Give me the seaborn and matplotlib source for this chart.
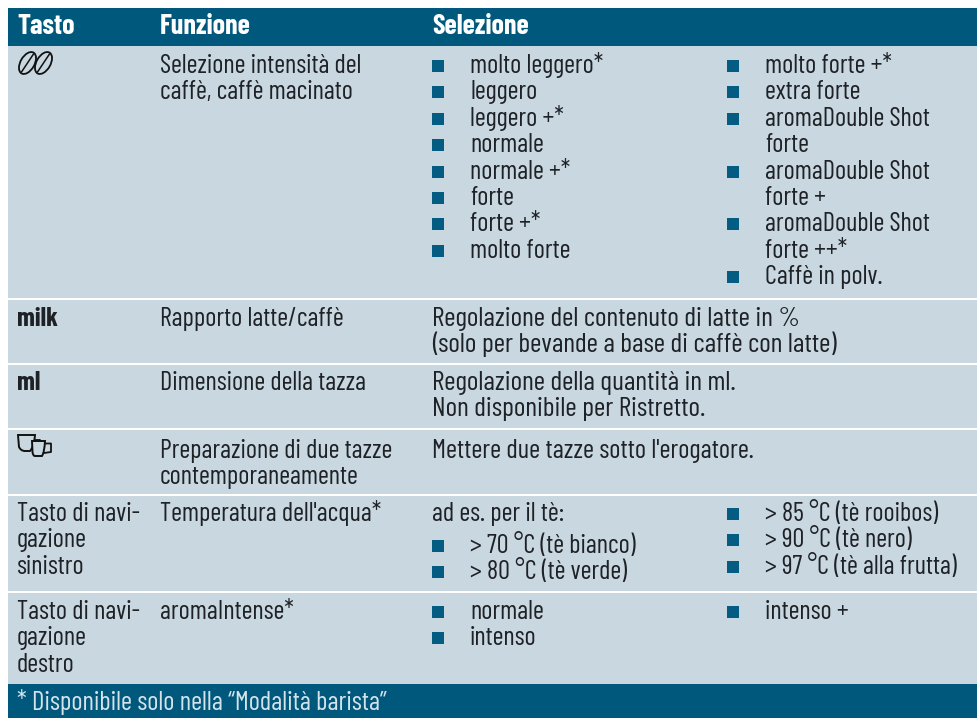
import matplotlib.pyplot as plt
import seaborn as sns
from matplotlib.patches import Ellipse, PathPatch
from matplotlib.path import Path

# table text
headers = ["Tasto", "Funzione", "Selezione"]
tasto = [["milk"], ["ml"]]
tasto_nav = [["Tasto di navi-", "gazione", "sinistro"], ["Tasto di navi-", "gazione", "destro"]]
funzione = [
    ["Selezione intensità del", "caffè, caffè macinato"],
    ["Rapporto latte/caffè"],
    ["Dimensione della tazza"],
    ["Preparazione di due tazze", "contemporaneamente"],
    ["Temperatura dell'acqua*"],
    ["aromaIntense*"],
]
intensita_a = ["molto leggero*", "leggero", "leggero +*", "normale", "normale +*", "forte", "forte +*", "molto forte"]
intensita_b = [
    ["molto forte +*"],
    ["extra forte"],
    ["aromaDouble Shot", "forte"],
    ["aromaDouble Shot", "forte +"],
    ["aromaDouble Shot", "forte ++*"],
    ["Caffè in polv."],
]
selezione_testo = [
    ["Regolazione del contenuto di latte in %", "(solo per bevande a base di caffè con latte)"],
    ["Regolazione della quantità in ml.", "Non disponibile per Ristretto."],
    ["Mettere due tazze sotto l'erogatore."],
]
temp_intro = "ad es. per il tè:"
temp_a = ["> 70 °C (tè bianco)", "> 80 °C (tè verde)"]
temp_b = ["> 85 °C (tè rooibos)", "> 90 °C (tè nero)", "> 97 °C (tè alla frutta)"]
aroma_a = ["normale", "intenso"]
aroma_b = ["intenso +"]
footer = "* Disponibile solo nella “Modalità barista”"

# layout, in pixels of the 977x718 picture
BLUE = "#00587c"
BAND = "#c9d7e1"
INK = "#1e2226"
ICON = "#111111"
PITCH = 26.4
FS = 19.0
COL = [17, 160, 432, 470, 727, 765]
row_edges = [(46, 298), (300, 363), (365, 428), (430, 494), (496, 591), (593, 684)]
row_base = [73, 326, 390, 458, 521, 619]
testo_size = [19.9, 19.9, 19.3]

sns.set_theme(style="white")
plt.rcParams["font.family"] = ["Barlow Condensed", "Roboto Condensed", "Liberation Sans", "DejaVu Sans"]

fig = plt.figure(figsize=(9.77, 7.18), dpi=100)
ax = fig.add_axes([0, 0, 1, 1])
ax.set_xlim(0, 977)
ax.set_ylim(718, 0)
ax.axis("off")


def put(x, y, s, **kw):
    kw.setdefault("color", INK)
    kw.setdefault("fontsize", FS)
    ax.text(x, y, s, va="baseline", ha="left", **kw)


def block(x, y, lines, **kw):
    for i, s in enumerate(lines):
        put(x, y + i * PITCH, s, **kw)


def bullets(x_b, x_t, y, items):
    # items are lists of wrapped lines, only the first one gets a square
    n = 0
    for item in items:
        lines = item if isinstance(item, list) else [item]
        ax.plot([x_b + 6], [y + n * PITCH - 7], marker="s", ms=8.6, mew=0, color="#045c82")
        block(x_t, y + n * PITCH, lines)
        n += len(lines)


# backgrounds
ax.axhspan(8, 46, xmin=8 / 977, color=BLUE, lw=0)
for top, bottom in row_edges:
    ax.axhspan(top, bottom, xmin=8 / 977, color=BAND, lw=0)
ax.axhspan(684, 718, xmin=8 / 977, color=BLUE, lw=0)

# header and footer
for x, s in zip([COL[0], COL[1], COL[2]], headers):
    put(x, 34, s, color="white", fontweight="bold", fontsize=20.2)
put(COL[0], 710, footer, color="#d5e3ea", fontsize=19.2)

# first column
block(COL[0], row_base[1], tasto[0], fontweight="bold")
block(COL[0], row_base[2], tasto[1], fontweight="bold")
block(COL[0], row_base[4], tasto_nav[0])
block(COL[0], row_base[5], tasto_nav[1])

# second column
for y, lines in zip(row_base, funzione):
    block(COL[1], y, lines)

# third column
bullets(COL[2], COL[3], row_base[0], intensita_a)
bullets(COL[4], COL[5], row_base[0], intensita_b)
for y, lines, size in zip(row_base[1:4], selezione_testo, testo_size):
    block(COL[2], y, lines, fontsize=size)
put(COL[2], row_base[4], temp_intro)
bullets(COL[2], COL[3], row_base[4] + 32, temp_a)
bullets(COL[4], COL[5], row_base[4], temp_b)
bullets(COL[2], COL[3], row_base[5], aroma_a)
bullets(COL[4], COL[5], row_base[5], aroma_b)

# bean icon
for cx in (27.5, 43.5):
    ax.add_patch(Ellipse((cx, 63), 14, 24, angle=30, fill=False, ec=ICON, lw=1.3))
    ax.plot([cx - 6, cx + 6], [72, 54], color=ICON, lw=1.1)

# cup icon
big_cup = Path(
    [(18, 435), (35, 435), (34, 447), (30, 451), (25, 451), (21, 451), (19, 447), (18, 435)],
    [Path.MOVETO, Path.LINETO, Path.CURVE3, Path.CURVE3, Path.LINETO, Path.CURVE3, Path.CURVE3, Path.CLOSEPOLY],
)
small_cup = Path(
    [(32, 441), (45, 441), (44.5, 452), (42, 456), (35, 456), (33, 456), (32.5, 452), (32, 441)],
    [Path.MOVETO, Path.LINETO, Path.CURVE3, Path.CURVE3, Path.LINETO, Path.CURVE3, Path.CURVE3, Path.CLOSEPOLY],
)
ax.add_patch(PathPatch(big_cup, fc=BAND, ec=ICON, lw=1.4))
ax.plot([35, 40, 40], [440, 440, 441], color=ICON, lw=1.3)
ax.add_patch(PathPatch(small_cup, fc=BAND, ec=ICON, lw=1.4))
ax.plot([45, 51, 51, 44], [443.5, 443.5, 452, 453], color=ICON, lw=1.3)

fig.savefig("out.png", dpi=100, facecolor="white")
